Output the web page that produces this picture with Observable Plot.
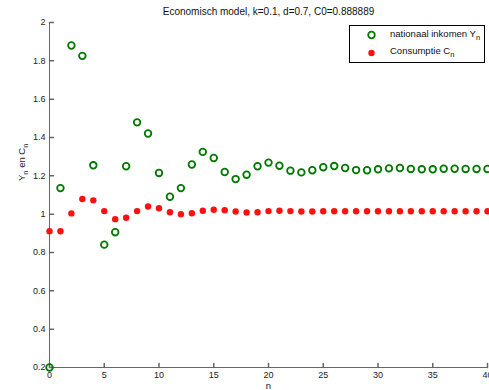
<!DOCTYPE html>
<html><head><meta charset="utf-8">
<script src="https://cdn.jsdelivr.net/npm/d3@7"></script>
<script src="https://cdn.jsdelivr.net/npm/@observablehq/plot@0.6"></script>
<style>body{margin:0;background:#fff;} svg{display:block;}</style>
</head><body><div id="chart"></div>
<script>
const titleText = "Economisch model, k=0.1, d=0.7, C0=0.888889";
const xLabel = "n";
const yLabel = "Yn en Cn";
const seriesNames = ["nationaal inkomen Y", "Consumptie C"];
const nValues = [0,1,2,3,4,5,6,7,8,9,10,11,12,13,14,15,16,17,18,19,20,21,22,23,24,25,26,27,28,29,30,31,32,33,34,35,36,37,38,39,40];
const Yvalues = [0.2,1.136,1.88,1.826,1.255,0.841,0.906,1.25,1.479,1.421,1.215,1.091,1.136,1.259,1.325,1.293,1.22,1.183,1.206,1.25,1.269,1.253,1.227,1.218,1.229,1.245,1.251,1.241,1.230,1.229,1.234,1.239,1.241,1.236,1.234,1.234,1.237,1.237,1.236,1.236,1.236];
const Cvalues = [0.911,0.911,1.004,1.079,1.072,1.016,0.974,0.981,1.016,1.040,1.031,1.010,1.000,1.005,1.018,1.023,1.021,1.014,1.009,1.010,1.016,1.018,1.016,1.014,1.014,1.015,1.015,1.015,1.015,1.015,1.015,1.015,1.015,1.015,1.015,1.015,1.015,1.015,1.015,1.015,1.015];
const xTicks = [0,5,10,15,20,25,30,35,40];
const yTicks = [0.2,0.4,0.6,0.8,1,1.2,1.4,1.6,1.8,2];

const yData = nValues.map((n,i)=>({n, v: Yvalues[i]}));
const cData = nValues.map((n,i)=>({n, v: Cvalues[i]}));
const fmt = d3.format("~g");
const axisColor = "#666";
const green = "#007800";
const red = "#ff1010";
const tickShape = {draw(ctx, l){ ctx.moveTo(0,0); ctx.lineTo(0,-l); }};

const chart = Plot.plot({
  width: 489, height: 390,
  marginLeft: 49, marginRight: 2, marginTop: 22, marginBottom: 23,
  style: {fontFamily: "'Liberation Sans', Arial, sans-serif", fontSize: "9px", color: "#222", background: "white", overflow: "visible"},
  x: {domain: [0, 40]},
  y: {domain: [0.2, 2]},
  marks: [
    Plot.ruleX([0], {stroke: axisColor}),
    Plot.ruleY([0.2], {stroke: axisColor}),
    Plot.vector(xTicks, {x: d=>d, y: d=>0.2, length: 4, anchor: "start", rotate: 0, stroke: axisColor, shape: tickShape}),
    Plot.vector(yTicks, {x: d=>0, y: d=>d, length: 4, anchor: "start", rotate: 90, stroke: axisColor, shape: tickShape}),
    Plot.axisX(xTicks, {tickSize: 0, tickPadding: 4, tickFormat: fmt, label: null, fill: "#222"}),
    Plot.axisY(yTicks, {tickSize: 0, tickPadding: 4, tickFormat: fmt, label: null, fill: "#222"}),
    Plot.text([titleText], {frameAnchor: "top", dy: -11, lineAnchor: "middle", fontSize: 10, fill: "#111"}),
    Plot.text([xLabel], {frameAnchor: "bottom", dy: 18.5, lineAnchor: "middle", fontSize: 9.5, fill: "#222"}),
    Plot.text([yLabel], {frameAnchor: "left", rotate: -90, dx: -28, dy: -14, fontSize: 9.5, fill: "#222"}),
    Plot.dot(cData, {x: "n", y: "v", r: 3.2, fill: red, stroke: null}),
    Plot.dot(yData, {x: "n", y: "v", r: 3.3, stroke: green, strokeWidth: 1.8, fill: "none"})
  ]
});
document.getElementById("chart").appendChild(chart);

const svg = d3.select(chart);
// subscripts in y label
svg.selectAll("text").filter(function(){ return this.textContent === yLabel; }).each(function(){
  const t = d3.select(this);
  t.text(null);
  t.append("tspan").text("Y");
  t.append("tspan").attr("dy", 3).attr("font-size", 7.5).text("n");
  t.append("tspan").attr("dy", -3).text(" en C");
  t.append("tspan").attr("dy", 3).attr("font-size", 7.5).text("n");
});

// legend
const lg = svg.append("g").attr("font-family", "'Liberation Sans', Arial, sans-serif").attr("font-size", 9.5).attr("fill", "#111").attr("text-anchor", "start");
lg.append("rect").attr("x", 349.5).attr("y", 25.5).attr("width", 135).attr("height", 37).attr("fill", "white").attr("stroke", "#000").attr("stroke-width", 1);
lg.append("circle").attr("cx", 371.5).attr("cy", 35).attr("r", 3.3).attr("fill", "none").attr("stroke", green).attr("stroke-width", 1.8);
lg.append("circle").attr("cx", 371.5).attr("cy", 53).attr("r", 3.2).attr("fill", red);
seriesNames.forEach((name, i) => {
  const t = lg.append("text").attr("x", 390).attr("y", 37 + i*17).style("text-anchor", "start");
  t.append("tspan").text(name);
  t.append("tspan").attr("dy", 3).attr("font-size", 7.5).text("n");
});
</script>
</body></html>
